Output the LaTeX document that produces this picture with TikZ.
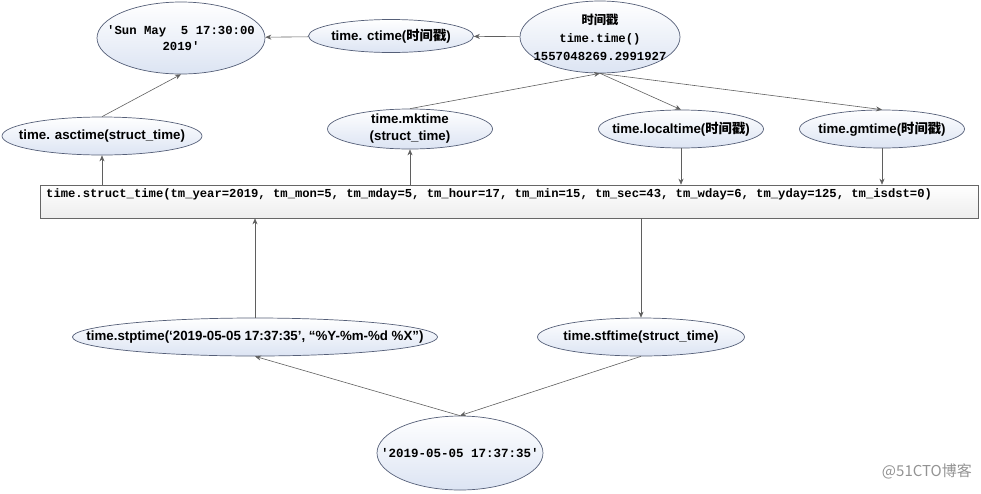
\documentclass[tikz,border=0pt]{standalone}
\usepackage{fontspec}
\setmainfont{Liberation Sans}
\newfontfamily\cjk{Noto Sans CJK SC}
\newfontfamily\monof{Liberation Mono}
\usetikzlibrary{shapes.geometric,arrows.meta}
\newcommand{\zh}[1]{{\cjk #1}}
\definecolor{edge}{RGB}{85,95,120}
\definecolor{arrc}{RGB}{95,95,95}
\definecolor{ellbot}{RGB}{220,228,243}
\tikzset{
  ell/.style={ellipse,draw=edge,line width=0.7pt,top color=white,bottom color=ellbot,inner sep=0pt},
  lab/.style={inner sep=0pt,align=center,font=\bfseries\fontsize{13.3}{15}\selectfont},
  rectbox/.style={rectangle,draw=gray!80!black,line width=0.6pt,top color=white,bottom color=gray!14,inner sep=0pt},
  arr/.style={draw=arrc,line width=0.6pt,-{Stealth[length=6pt,width=5pt]}},
  monolab/.style={inner sep=0pt,align=center,font=\monof\bfseries\fontsize{12.3}{16}\selectfont}
}
\begin{document}
\begin{tikzpicture}[x=1pt,y=-1pt]
\useasboundingbox (0,0) rectangle (981,493);
% top row
\node[ell,minimum width=168,minimum height=72,
  label={[monolab]center:{'Sun May~ 5 17:30:00\\2019'}}] (sun) at (181,38) {};
\node[ell,minimum width=165,minimum height=33,
  label={[lab]center:{time. ctime(\zh{时间戳})}}] (ctime) at (391,36) {};
\node[ell,minimum width=160,minimum height=72,
  label={[inner sep=0pt,align=center,font=\bfseries\fontsize{12.3}{18}\selectfont]center:{\zh{时间戳}\\{\monof time.time()}\\{\monof 1557048269.2991927}}}] (ts) at (600,37) {};
% second row
\node[ell,minimum width=200,minimum height=38,
  label={[lab]center:{time. asctime(struct\_time)}}] (asc) at (102,136) {};
\node[ell,minimum width=165,minimum height=40,
  label={[lab,font=\bfseries\fontsize{13.3}{17}\selectfont]center:{time.mktime\\(struct\_time)}}] (mk) at (410,129) {};
\node[ell,minimum width=165,minimum height=38,
  label={[lab]center:{time.localtime(\zh{时间戳})}}] (local) at (681,129) {};
\node[ell,minimum width=165,minimum height=38,
  label={[lab]center:{time.gmtime(\zh{时间戳})}}] (gm) at (882,129) {};
% struct rectangle
\node[rectbox,minimum width=938,minimum height=33] (st) at (509,201.5) {};
\node[anchor=west,inner sep=0pt,font=\monof\bfseries\fontsize{12.2}{14}\selectfont] (sttext) at (46,194)
  {time.struct\_time(tm\_year=2019, tm\_mon=5, tm\_mday=5, tm\_hour=17, tm\_min=15, tm\_sec=43, tm\_wday=6, tm\_yday=125, tm\_isdst=0)};
% third row
\node[ell,minimum width=365,minimum height=38,
  label={[lab]center:{time.stptime(‘2019-05-05 17:37:35’, “\%Y-\%m-\%d \%X”)}}] (stp) at (255,337) {};
\node[ell,minimum width=207,minimum height=38,
  label={[lab]center:{time.stftime(struct\_time)}}] (stf) at (641,337) {};
% bottom
\node[ell,minimum width=166,minimum height=74,
  label={[monolab,font=\monof\bfseries\fontsize{12.5}{14}\selectfont]center:{'2019-05-05~17:37:35'}}] (str) at (460,453) {};
% watermark
\node[anchor=east,inner sep=0pt,text=gray!85,font=\cjk\fontsize{15}{17}\selectfont] (wm) at (972,471) {@51CTO博客};
% connectors
\draw[arr] (ctime) -- (sun);
\draw[arr] (ts) -- (ctime);
\draw[arr] (asc.north) -- (sun.south);
\draw[arr] (mk.north) -- (ts.south);
\draw[arr] (ts.south) -- (local.north);
\draw[arr] (ts.south) -- (gm.north);
\draw[arr] (st.north -| asc) -- (asc.south);
\draw[arr] (st.north -| mk) -- (mk.south);
\draw[arr] (local.south) -- (local |- st.north);
\draw[arr] (gm.south) -- (gm |- st.north);
\draw[arr] (stp.north) -- (stp |- st.south);
\draw[arr] (stf |- st.south) -- (stf.north);
\draw[arr] (str.north) -- (stp.south);
\draw[arr] (stf.south) -- (str.north);
\end{tikzpicture}
\end{document}
